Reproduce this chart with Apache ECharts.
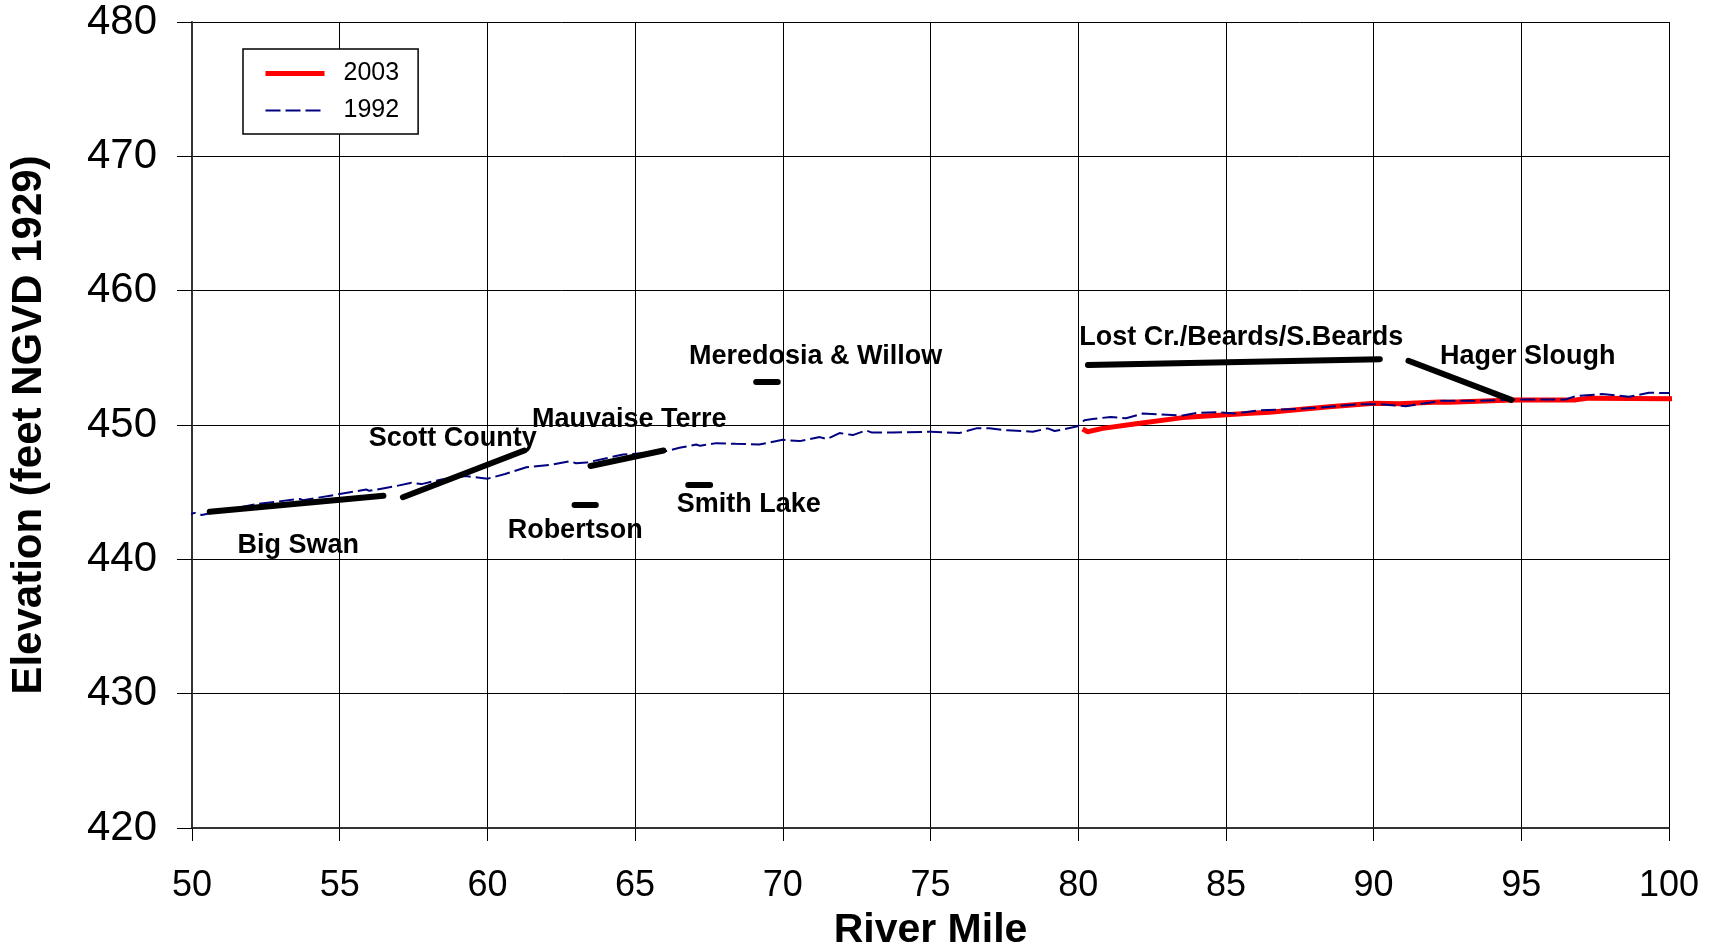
<!DOCTYPE html>
<html>
<head>
<meta charset="utf-8">
<script src="https://cdn.jsdelivr.net/npm/echarts@6/dist/echarts.min.js"></script>
<style>
  html, body { margin: 0; padding: 0; background: #ffffff; }
  #chart { width: 1715px; height: 946px; }
</style>
</head>
<body>
<div id="chart"></div>
<script>
// Water surface profiles, river mile vs elevation (feet NGVD 1929)
const miles1992 = [49.63, 50.10, 50.33, 52.13, 53.65, 53.75, 54.84, 55.90, 56.00, 56.90, 57.43, 57.77,
  58.45, 59.26, 60.00, 60.60, 61.32, 62.20, 62.79, 63.00, 63.35, 64.59, 65.94, 66.50, 67.07, 67.20,
  67.75, 68.40, 69.20, 70.00, 70.57, 71.25, 71.50, 71.92, 72.37, 72.82, 73.00, 73.72, 75.02, 75.98,
  76.55, 76.99, 77.60, 78.46, 78.97, 79.20, 79.98, 80.21, 80.49, 81.10, 81.62, 82.18, 83.54, 84.00,
  84.66, 85.30, 86.13, 87.50, 88.50, 89.50, 90.20, 91.09, 92.30, 93.50, 94.80, 96.50, 96.84, 97.74,
  98.64, 99.32, 100.33];
const elev1992 = [443.20, 443.46, 443.30, 444.10, 444.50, 444.40, 444.80, 445.20, 445.10, 445.45, 445.70, 445.60,
  445.95, 446.20, 446.00, 446.35, 446.85, 447.05, 447.30, 447.15, 447.20, 447.80, 448.00, 448.30, 448.55, 448.45,
  448.65, 448.60, 448.55, 448.90, 448.80, 449.10, 448.95, 449.40, 449.25, 449.60, 449.45, 449.45, 449.50, 449.40,
  449.75, 449.75, 449.60, 449.50, 449.75, 449.55, 449.90, 450.35, 450.45, 450.60, 450.50, 450.85, 450.70, 450.90,
  450.95, 450.85, 451.10, 451.20, 451.35, 451.55, 451.55, 451.40, 451.80, 451.80, 451.90, 451.90, 452.15, 452.30,
  452.10, 452.40, 452.37];

const miles2003 = [80.15, 80.32, 80.83, 81.96, 83.54, 84.89, 85.68, 86.47, 87.48, 88.50, 90.02, 90.86,
  92.22, 92.56, 94.70, 96.84, 97.30, 100.33];
const elev2003 = [449.70, 449.50, 449.75, 450.10, 450.55, 450.75, 450.85, 450.95, 451.15, 451.35, 451.62, 451.58,
  451.72, 451.70, 451.87, 451.87, 452.00, 451.95];

// Levee / drainage district segments: [mile, elev] at each end
const segmentNames = ['Big Swan', 'Scott County', 'Mauvaise Terre', 'Robertson', 'Smith Lake',
  'Meredosia & Willow', 'Lost Cr./Beards/S.Beards', 'Hager Slough'];
const segmentStart = [[50.6, 443.55], [57.14, 444.62], [63.49, 446.95], [62.95, 444.05], [66.8, 445.54],
  [69.1, 453.2], [80.33, 454.47], [91.18, 454.78]];
const segmentEnd = [[56.48, 444.73], [61.25, 448.1], [65.96, 448.1], [63.67, 444.05], [67.54, 445.54],
  [69.83, 453.2], [90.21, 454.9], [94.66, 451.87]];
// Where each district name is written
const labelAt = [[53.6, 441.05], [58.83, 449.0], [64.8, 450.37], [62.97, 442.15], [68.85, 444.1],
  [71.11, 455.1], [85.52, 456.48], [95.22, 455.1]];

const xTicks = { min: 50, max: 100, interval: 5 };
const yTicks = { min: 420, max: 480, interval: 10 };

const zip = (xs, ys) => xs.map((x, i) => [x, ys[i]]);

const FONT = '"Liberation Sans", Arial, sans-serif';

const segmentSeries = segmentNames.map((name, i) => ({
  name: name,
  type: 'line',
  data: [segmentStart[i], segmentEnd[i]],
  symbol: 'none',
  silent: true,
  z: 5,
  lineStyle: { color: '#000000', width: 6, cap: 'round' }
}));

const chart = echarts.init(document.getElementById('chart'), null, { renderer: 'canvas' });
chart.setOption({
  backgroundColor: '#ffffff',
  animation: false,
  textStyle: { fontFamily: FONT },
  grid: { left: 192, right: 46, top: 22, bottom: 118, containLabel: false, outerBoundsMode: 'none' },
  legend: {
    data: ['2003', '1992'],
    orient: 'vertical',
    left: 243,
    top: 49,
    padding: [12, 19, 11, 20],
    itemGap: 12,
    itemWidth: 59,
    itemHeight: 14,
    backgroundColor: '#ffffff',
    borderColor: '#000000',
    borderWidth: 1.5,
    borderRadius: 0,
    itemStyle: { opacity: 0 },
    lineStyle: { width: 'inherit' },
    textStyle: { fontFamily: FONT, fontSize: 25, color: '#000000', padding: [0, 0, 0, 14] }
  },
  xAxis: {
    type: 'value',
    min: xTicks.min, max: xTicks.max, interval: xTicks.interval,
    name: 'River Mile',
    nameLocation: 'middle',
    nameGap: 82,
    nameTextStyle: { fontFamily: FONT, fontSize: 41, fontWeight: 'bold', color: '#000000' },
    axisLine: { onZero: false, lineStyle: { color: '#333333', width: 2 } },
    axisTick: { show: true, inside: false, length: 13, lineStyle: { color: '#000000', width: 1 } },
    axisLabel: { margin: 40, fontFamily: FONT, fontSize: 36, color: '#000000' },
    splitLine: { show: true, lineStyle: { color: '#000000', width: 1 } }
  },
  yAxis: {
    type: 'value',
    min: yTicks.min, max: yTicks.max, interval: yTicks.interval,
    name: 'Elevation (feet NGVD 1929)',
    nameLocation: 'middle',
    nameRotate: 90,
    nameGap: 142,
    nameTextStyle: { fontFamily: FONT, fontSize: 42, fontWeight: 'bold', color: '#000000' },
    axisLine: { show: true, lineStyle: { color: '#333333', width: 2 } },
    axisTick: { show: true, inside: false, length: 15, lineStyle: { color: '#000000', width: 1 } },
    axisLabel: { margin: 35, fontFamily: FONT, fontSize: 42, color: '#000000' },
    splitLine: { show: true, lineStyle: { color: '#000000', width: 1 } }
  },
  series: [
    {
      name: '2003',
      type: 'line',
      data: zip(miles2003, elev2003),
      symbol: 'none',
      clip: false,
      z: 3,
      lineStyle: { color: '#ff0000', width: 5 },
      itemStyle: { color: '#ff0000' }
    },
    {
      name: '1992',
      type: 'line',
      data: zip(miles1992, elev1992),
      symbol: 'none',
      clip: false,
      z: 4,
      lineStyle: { color: '#000080', width: 2, type: [15, 5] },
      itemStyle: { color: '#000080' }
    },
    ...segmentSeries,
    {
      name: 'labels',
      type: 'scatter',
      silent: true,
      symbolSize: 1,
      z: 6,
      itemStyle: { color: 'rgba(0,0,0,0)' },
      data: labelAt.map((p, i) => ({ value: p, name: segmentNames[i] })),
      label: {
        show: true,
        position: 'top',
        distance: -14,
        formatter: (p) => p.name,
        fontFamily: FONT,
        fontSize: 27,
        fontWeight: 'bold',
        color: '#000000',
        opacity: 1
      }
    }
  ]
});
</script>
</body>
</html>
